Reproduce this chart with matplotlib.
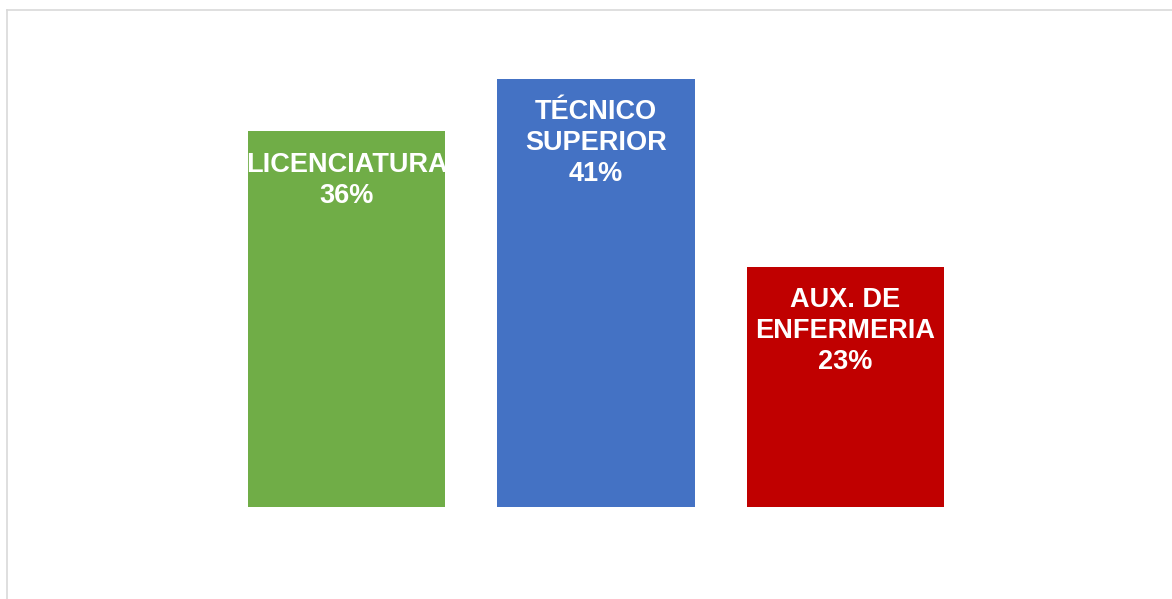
import matplotlib
matplotlib.use("Agg")
import matplotlib.pyplot as plt
from matplotlib.lines import Line2D

categories = ["LICENCIATURA", "TÉCNICO\nSUPERIOR", "AUX. DE\nENFERMERIA"]
values = [36, 41, 23]
colors = ["#70AD47", "#4472C4", "#C00000"]

fig = plt.figure(figsize=(11.72, 5.99), dpi=100)
ax = fig.add_axes([0, 0, 1, 1])
ax.set_xlim(-1.389, 3.309)
ax.set_ylim(-8.80, 48.60)
ax.axis("off")

x = range(len(values))
bars = ax.bar(x, values, width=0.79, color=colors)

for bar, cat, v in zip(bars, categories, values):
    cx = bar.get_x() + bar.get_width() / 2
    t = ax.annotate(f"{cat}\n{v}%", xy=(cx, bar.get_height()),
                    xytext=(0, -14.5), textcoords="offset points",
                    ha="center", va="top", color="white", fontsize=19.5,
                    fontweight="bold", family="Liberation Sans",
                    linespacing=1.25)
    t.set_clip_path(bar)

# light frame on top and left edges
fig.add_artist(Line2D([6.5 / 1172, 1], [1 - 9.5 / 599, 1 - 9.5 / 599],
                      color="#d9d9d9", lw=1.2))
fig.add_artist(Line2D([6.5 / 1172, 6.5 / 1172], [0, 1 - 9.5 / 599],
                      color="#d9d9d9", lw=1.2))

fig.savefig("out.png", dpi=100, facecolor="white")
